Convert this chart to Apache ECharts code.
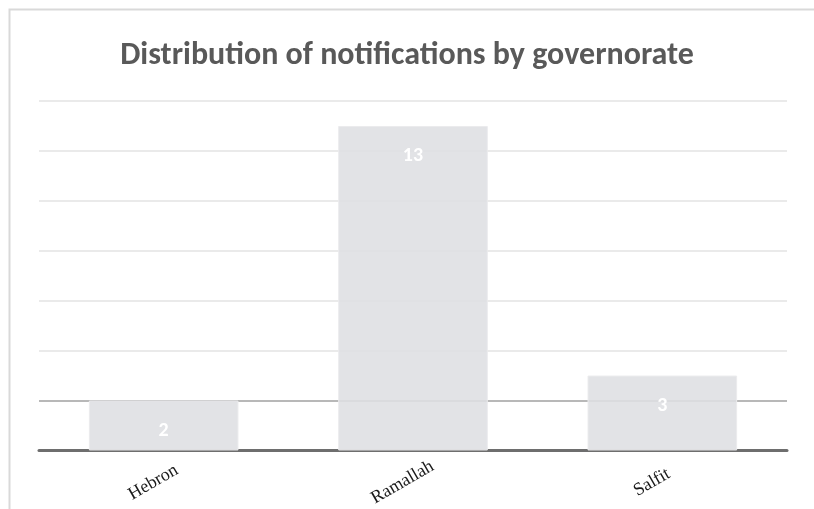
<!DOCTYPE html>
<html>
<head>
<meta charset="utf-8">
<script src="https://cdn.jsdelivr.net/npm/echarts@6/dist/echarts.min.js"></script>
<style>
	html, body { margin: 0; padding: 0; background: #fff; }
	#chart { width: 814px; height: 509px; }
</style>
</head>
<body>
<div id="chart"></div>
<script>
	const categories = ["Hebron", "Ramallah", "Salfit"];
	const counts = [2, 13, 3];
	const titleText = "Distribution of notifications by governorate";

	const chart = echarts.init(document.getElementById("chart"));

	const option = {
		animation: false,
		backgroundColor: "#fff",
		graphic: [
			{
				type: "rect",
				shape: { x: 9.5, y: 9.5, width: 900, height: 600 },
				style: { fill: "none", stroke: "#d9d9d9", lineWidth: 2 },
				silent: true
			}
		],
		title: {
			text: titleText,
			left: "center",
			top: 35,
			textStyle: {
				fontFamily: "Carlito, Lato",
				fontWeight: "bold",
				fontSize: 32,
				color: "#595959"
			}
		},
		grid: {
			left: 39,
			right: 27,
			top: 101,
			bottom: 58
		},
		xAxis: {
			type: "category",
			data: categories,
			axisLine: { lineStyle: { color: "#6e6e6e", width: 3 } },
			axisTick: { show: false },
			axisLabel: {
				rotate: 30,
				margin: 26,
				align: "center",
				verticalAlign: "middle",
				padding: [0, 24, 0, 0],
				fontFamily: "Liberation Serif",
				fontSize: 18,
				color: "#1a1a1a"
			}
		},
		yAxis: {
			type: "value",
			min: 0,
			max: 14,
			interval: 2,
			axisLabel: { show: false },
			axisLine: { show: false },
			axisTick: { show: false },
			splitLine: {
				lineStyle: {
					color: ["#d9d9d9", "#a0a0a0", "#e3e3e3", "#e3e3e3", "#e3e3e3", "#e3e3e3", "#e3e3e3", "#e3e3e3"],
					width: 1.5
				}
			}
		},
		series: [
			{
				type: "bar",
				data: counts,
				barWidth: "60%",
				itemStyle: {
					color: "rgba(222,223,226,0.88)",
					borderColor: "#ebebed",
					borderWidth: 1
				},
				label: {
					show: true,
					position: "insideTop",
					distance: 20,
					fontFamily: "Carlito, Lato",
					fontWeight: "bold",
					fontSize: 20,
					color: "#fff"
				}
			}
		]
	};

	chart.setOption(option);
</script>
</body>
</html>
